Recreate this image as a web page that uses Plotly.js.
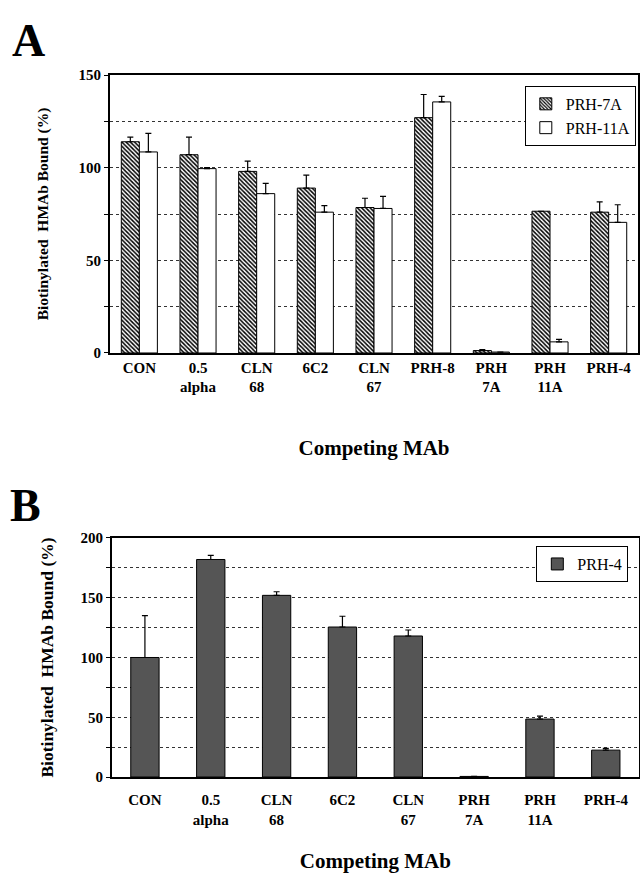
<!DOCTYPE html>
<html>
<head>
<meta charset="utf-8">
<script src="https://cdn.plot.ly/plotly-3.0.1.min.js"></script>
<style>html,body{margin:0;padding:0;background:#fff;}#chart{width:640px;height:886px;}</style>
</head>
<body>
<div id="chart"></div>
<script>
// Panel A
const catsA = ["CON", "0.5<br>alpha", "CLN<br>68", "6C2", "CLN<br>67", "PRH-8", "PRH<br>7A", "PRH<br>11A", "PRH-4"];
const prh7A = [114, 107, 98, 89, 78.5, 127, 1.3, 76.5, 76];
const prh7AErr = [2.5, 9.5, 5.5, 7, 5, 12.5, 0.5, 0, 5.5];
const prh11A = [108.5, 99.5, 86, 76, 78, 135.5, 0.5, 6, 70.5];
const prh11AErr = [10, 0.5, 5.5, 3.5, 6.5, 3, 0, 1.3, 9.5];
// Panel B
const catsB = ["CON", "0.5<br>alpha", "CLN<br>68", "6C2", "CLN<br>67", "PRH<br>7A", "PRH<br>11A", "PRH-4"];
const prh4 = [100, 182, 152, 125.5, 118, 0.5, 48.5, 22.5];
const prh4Err = [35, 3.5, 3, 9, 5, 0, 2.5, 1.5];

const zeros = a => a.map(() => 0);
const serif = "'Liberation Serif', 'Times New Roman', serif";
const errStyle = (arr) => ({type: "data", symmetric: false, array: arr, arrayminus: zeros(arr), color: "#000", thickness: 1.2, width: 3});

const traces = [
  {type: "bar", name: "PRH-7A", x: catsA, y: prh7A, xaxis: "x", yaxis: "y", legend: "legend",
   marker: {color: "#fff", line: {color: "#000", width: 1},
            pattern: {shape: "\\", fgcolor: "#000", bgcolor: "#fff", size: 3, solidity: 0.5}},
   error_y: errStyle(prh7AErr)},
  {type: "bar", name: "PRH-11A", x: catsA, y: prh11A, xaxis: "x", yaxis: "y", legend: "legend",
   marker: {color: "#fff", line: {color: "#000", width: 1}},
   error_y: errStyle(prh11AErr)},
  {type: "bar", name: "PRH-4", x: catsB, y: prh4, xaxis: "x2", yaxis: "y2", legend: "legend2", width: 0.43,
   marker: {color: "#555", line: {color: "#000", width: 1},
            pattern: {shape: ".", fgcolor: "#111", bgcolor: "#8a8a8a", size: 2, solidity: 0.5}},
   error_y: errStyle(prh4Err)}
];

const tickFont = {family: serif, size: 15, color: "#000", weight: "bold"};
const gridCommon = {gridcolor: "#333", griddash: "dot", gridwidth: 1};

const layout = {
  width: 640, height: 886,
  margin: {l: 0, r: 0, t: 0, b: 0},
  paper_bgcolor: "#fff", plot_bgcolor: "#fff",
  barmode: "group", bargap: 0.385, bargroupgap: 0,
  showlegend: true,
  font: {family: serif, color: "#000"},
  xaxis: {domain: [0.1719, 0.9969], anchor: "y", showline: true, linecolor: "#000", linewidth: 2, mirror: true,
          ticks: "", tickfont: tickFont, showgrid: false,
          title: {text: "Competing MAb", font: {family: serif, size: 21, weight: "bold"}, standoff: 46}},
  yaxis: {domain: [0.6016, 0.9153], anchor: "x", range: [0, 150], dtick: 50, showline: true, linecolor: "#000", linewidth: 2, mirror: true,
          ticks: "outside", ticklen: 4, tickcolor: "#000", tickfont: tickFont, zeroline: false, showgrid: true, ...gridCommon,
          minor: {dtick: 25, showgrid: true, gridcolor: "#333", griddash: "dot", ticks: "outside", ticklen: 4, tickcolor: "#000"},
          title: {text: "Biotinylated&nbsp; HMAb Bound (%)", font: {family: serif, size: 15.5, weight: "bold"}, standoff: 26}},
  xaxis2: {domain: [0.175, 0.998], anchor: "y2", showline: true, linecolor: "#000", linewidth: 2, mirror: true,
           ticks: "", tickfont: tickFont, showgrid: false, ticklabelstandoff: 8,
           title: {text: "Competing MAb", font: {family: serif, size: 21, weight: "bold"}, standoff: 27}},
  yaxis2: {domain: [0.123, 0.3928], anchor: "x2", range: [0, 200], dtick: 50, showline: true, linecolor: "#000", linewidth: 2, mirror: true,
           ticks: "outside", ticklen: 4, tickcolor: "#000", tickfont: tickFont, zeroline: false, showgrid: true, ...gridCommon,
           minor: {dtick: 25, showgrid: true, gridcolor: "#333", griddash: "dot", ticks: "outside", ticklen: 4, tickcolor: "#000"},
           title: {text: "Biotinylated&nbsp; HMAb Bound (%)", font: {family: serif, size: 17.5, weight: "bold"}, standoff: 22}},
  legend: {x: 0.82, y: 0.903, xanchor: "left", yanchor: "top", bgcolor: "#fff", bordercolor: "#000", borderwidth: 1,
           font: {family: serif, size: 16, color: "#000"}, tracegroupgap: 2},
  legend2: {x: 0.838, y: 0.3837, xanchor: "left", yanchor: "top", bgcolor: "#fff", bordercolor: "#000", borderwidth: 1,
            font: {family: serif, size: 16, color: "#000"}},
  annotations: [
    {text: "A", xref: "paper", yref: "paper", x: 0.015, y: 0.985, xanchor: "left", yanchor: "top", showarrow: false,
     font: {family: serif, size: 46, weight: "bold", color: "#000"}},
    {text: "B", xref: "paper", yref: "paper", x: 0.012, y: 0.46, xanchor: "left", yanchor: "top", showarrow: false,
     font: {family: serif, size: 46, weight: "bold", color: "#000"}}
  ]
};

Plotly.newPlot("chart", traces, layout, {staticPlot: true, displayModeBar: false});
</script>
</body>
</html>
